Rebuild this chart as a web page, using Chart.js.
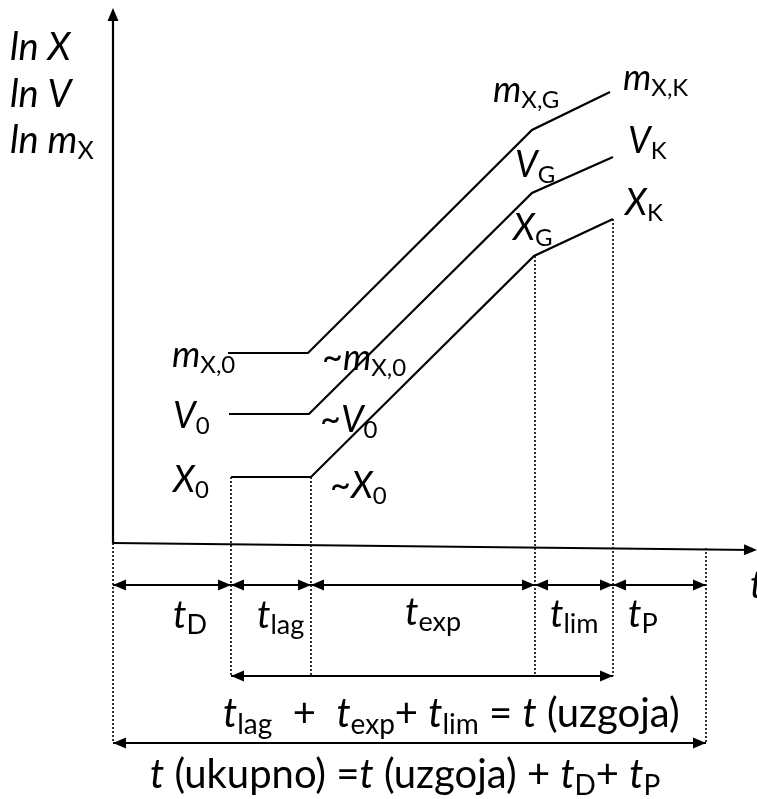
<!DOCTYPE html>
<html>
<head>
<meta charset="utf-8">
<script src="https://cdn.jsdelivr.net/npm/chart.js@4.4.1/dist/chart.umd.min.js"></script>
<style>
  html, body { margin: 0; padding: 0; background: #fff; }
  #wrap { width: 757px; height: 799px; }
</style>
</head>
<body>
<div id="wrap"><canvas id="growth" width="757" height="799"></canvas></div>
<script>
// time axis (t) and ln-values
const phaseEdges = [0, 11.8, 19.8, 42.2, 50.0, 59.3];   // start, D|lag, lag|exp, exp|lim, lim|P, end
const tX = [11.8, 19.8, 42.1, 50.0];
const lnX = [6.6, 6.6, 28.7, 32.4];
const tV = [11.6, 19.6, 41.9, 50.0];
const lnV = [12.9, 12.9, 35.0, 38.6];
const tM = [11.5, 19.5, 41.9, 49.7];
const lnM = [19.0, 19.0, 41.3, 45.1];

// how far the dotted guides run (top ln, bottom ln) for each edge
const guideTop = [0, 6.6, 6.6, 28.7, 32.4, -0.5];
const guideBottom = [-20.0, -13.3, -13.3, -13.3, -13.3, -20.0];

const FONT = 'Lato, "Open Sans", sans-serif';

const toPts = (xs, ys) => xs.map((x, i) => ({ x: x, y: ys[i] }));

const solid = (xs, ys) => ({
    data: toPts(xs, ys),
    showLine: true,
    borderColor: '#000',
    borderWidth: 2.2,
    pointRadius: 0,
    tension: 0
});

const guides = phaseEdges.map((t, i) => ({
    data: [{ x: t, y: guideTop[i] }, { x: t, y: guideBottom[i] }],
    showLine: true,
    borderColor: '#000',
    borderWidth: 1.6,
    borderDash: [2, 2],
    pointRadius: 0
}));

// rich text: i = italic, r = regular, s = subscript
function rich(ctx, x, y, parts, size, sub) {
    let cx = x;
    for (const [txt, kind] of parts) {
        let dy = 0;
        if (kind === 's') {
            ctx.font = `${Math.round(size * sub)}px ${FONT}`;
            dy = size * 0.17;
        } else if (kind === 'i') {
            ctx.font = `italic ${size}px ${FONT}`;
        } else {
            ctx.font = `${size}px ${FONT}`;
        }
        ctx.fillText(txt, cx, y + dy);
        cx += ctx.measureText(txt).width;
    }
}

function arrowHead(ctx, x, y, ang) {
    const L = 13, W = 5.5;
    ctx.beginPath();
    ctx.moveTo(x, y);
    ctx.lineTo(x - L * Math.cos(ang) + W * Math.sin(ang), y - L * Math.sin(ang) - W * Math.cos(ang));
    ctx.lineTo(x - L * Math.cos(ang) - W * Math.sin(ang), y - L * Math.sin(ang) + W * Math.cos(ang));
    ctx.closePath();
    ctx.fill();
}

function span(ctx, x1, x2, y, both) {
    ctx.beginPath();
    ctx.moveTo(x1, y);
    ctx.lineTo(x2, y);
    ctx.stroke();
    arrowHead(ctx, x2, y, 0);
    if (both) arrowHead(ctx, x1, y, Math.PI);
}

const labels = [
    { t: -10.3, v: 48.3, size: 38, parts: [['ln X', 'i']] },
    { t: -10.3, v: 43.6, size: 38, parts: [['ln V', 'i']] },
    { t: -10.3, v: 39.0, size: 38, parts: [['ln m', 'i'], ['X', 's']] },
    { t: 38.0, v: 44.1, size: 36, parts: [['m', 'i'], ['X,G', 's']] },
    { t: 51.0, v: 45.3, size: 36, parts: [['m', 'i'], ['X,K', 's']] },
    { t: 40.2, v: 36.6, size: 36, parts: [['V', 'i'], ['G', 's']] },
    { t: 51.5, v: 39.0, size: 36, parts: [['V', 'i'], ['K', 's']] },
    { t: 40.0, v: 30.3, size: 36, parts: [['X', 'i'], ['G', 's']] },
    { t: 51.2, v: 32.8, size: 36, parts: [['X', 'i'], ['K', 's']] },
    { t: 5.9, v: 17.6, size: 36, parts: [['m', 'i'], ['X,0', 's']] },
    { t: 6.0, v: 11.5, size: 36, parts: [['V', 'i'], ['0', 's']] },
    { t: 6.0, v: 5.1, size: 36, parts: [['X', 'i'], ['0', 's']] },
    { t: 20.9, v: 17.3, size: 36, parts: [['~', 'r'], ['m', 'i'], ['X,0', 's']] },
    { t: 20.7, v: 11.1, size: 36, parts: [['~', 'r'], ['V', 'i'], ['0', 's']] },
    { t: 21.7, v: 4.5, size: 36, parts: [['~', 'r'], ['X', 'i'], ['0', 's']] },
    { t: 6.0, v: -8.5, size: 38, sub: 0.7, parts: [['t', 'i'], ['D', 's']] },
    { t: 14.4, v: -8.5, size: 38, sub: 0.7, parts: [['t', 'i'], ['lag', 's']] },
    { t: 29.2, v: -8.2, size: 38, sub: 0.7, parts: [['t', 'i'], ['exp', 's']] },
    { t: 43.7, v: -8.4, size: 38, sub: 0.7, parts: [['t', 'i'], ['lim', 's']] },
    { t: 51.5, v: -8.4, size: 38, sub: 0.7, parts: [['t', 'i'], ['P', 's']] },
    { t: 63.7, v: -5.5, size: 38, parts: [['t', 'i']] },
    { t: 11.0, v: -18.4, size: 40, sub: 0.7, parts: [['t', 'i'], ['lag', 's'], ['  +  ', 'r'], ['t', 'i'], ['exp', 's'],
        ['+ ', 'r'], ['t', 'i'], ['lim', 's'], [' = ', 'r'], ['t', 'i'], [' (uzgoja)', 'r']] },
    { t: 3.7, v: -24.5, size: 40, sub: 0.7, parts: [['t', 'i'], [' (ukupno) =', 'r'], ['t', 'i'], [' (uzgoja) + ', 'r'],
        ['t', 'i'], ['D', 's'], ['+ ', 'r'], ['t', 'i'], ['P', 's']] }
];

const sketchPlugin = {
    id: 'sketch',
    afterDatasetsDraw(chart) {
        const ctx = chart.ctx;
        const xs = chart.scales.x, ys = chart.scales.y;
        const px = v => xs.getPixelForValue(v);
        const py = v => ys.getPixelForValue(v);
        ctx.save();
        ctx.strokeStyle = '#000';
        ctx.fillStyle = '#000';
        ctx.lineWidth = 2.2;

        // axes
        ctx.beginPath();
        ctx.moveTo(px(0), py(0));
        ctx.lineTo(px(0), py(53.5) + 4);
        ctx.stroke();
        arrowHead(ctx, px(0), py(53.5), -Math.PI / 2);
        const ex = px(64.4), ey = py(-0.7);
        ctx.beginPath();
        ctx.moveTo(px(0), py(0));
        ctx.lineTo(ex - 4, ey);
        ctx.stroke();
        arrowHead(ctx, ex, ey, Math.atan2(ey - py(0), ex - px(0)));

        // phase spans
        const r1 = py(-4.2);
        for (let i = 0; i < phaseEdges.length - 1; i++) {
            span(ctx, px(phaseEdges[i]), px(phaseEdges[i + 1]), r1, true);
        }
        span(ctx, px(phaseEdges[1]), px(phaseEdges[4]), py(-13.3), true);
        span(ctx, px(phaseEdges[0]), px(phaseEdges[5]), py(-20.0), true);

        // text
        ctx.textBaseline = 'alphabetic';
        ctx.textAlign = 'left';
        for (const l of labels) rich(ctx, px(l.t), py(l.v), l.parts, l.size, l.sub || 0.66);
        ctx.restore();
    }
};

new Chart(document.getElementById('growth'), {
    type: 'scatter',
    data: {
        datasets: [solid(tX, lnX), solid(tV, lnV), solid(tM, lnM), ...guides]
    },
    options: {
        responsive: false,
        animation: false,
        layout: { padding: 0 },
        scales: {
            x: { type: 'linear', min: -11.3, max: 64.4, display: false },
            y: { type: 'linear', min: -25.6, max: 54.3, display: false }
        },
        plugins: { legend: { display: false }, tooltip: { enabled: false } }
    },
    plugins: [sketchPlugin]
});
</script>
</body>
</html>
